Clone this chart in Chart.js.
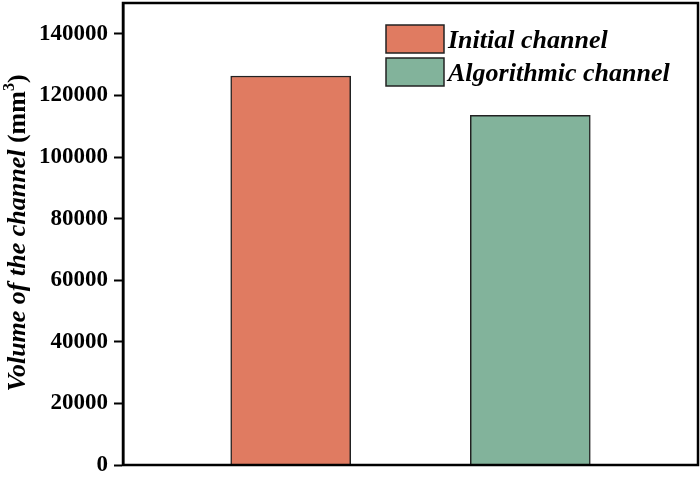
<!DOCTYPE html>
<html>
<head>
<meta charset="utf-8">
<script src="https://cdn.jsdelivr.net/npm/chart.js@4/dist/chart.umd.min.js"></script>
<style>
  html, body { margin: 0; padding: 0; background: #ffffff; }
  #wrap { width: 700px; height: 478px; }
</style>
</head>
<body>
<div id="wrap"><canvas id="volume-chart"></canvas></div>
<script>
// Chart data
const categories = ['Initial channel', 'Algorithmic channel'];
const volumes = [126300, 113500];
const yTicks = [0, 20000, 40000, 60000, 80000, 100000, 120000, 140000];

// Bar colours
const barColors = ['#e07b61', '#82b39b'];
const FONT = '"Liberation Serif", "Times New Roman", serif';

// Frame round the plot area
const framePlugin = {
  id: 'frame',
  afterDatasetsDraw: (chart) => {
    const { ctx, chartArea: a } = chart;
    ctx.save();
    ctx.strokeStyle = '#000000';
    ctx.lineWidth = 2.5;
    ctx.strokeRect(a.left, a.top, a.right - a.left, a.bottom - a.top);
    ctx.restore();
  },
};

// Legend drawn inside the plot, top right
const legendPlugin = {
  id: 'insideLegend',
  afterDraw: (chart) => {
    const { ctx } = chart;
    ctx.save();
    chart.data.datasets.forEach((ds, i) => {
      const x = 386;
      const y = 25 + i * 33;
      ctx.fillStyle = ds.backgroundColor;
      ctx.fillRect(x, y, 58, 28);
      ctx.strokeStyle = '#222222';
      ctx.lineWidth = 1.5;
      ctx.strokeRect(x, y, 58, 28);
      ctx.fillStyle = '#000000';
      ctx.font = `italic bold 26px ${FONT}`;
      ctx.textBaseline = 'alphabetic';
      ctx.fillText(ds.label, x + 62, y + 23);
    });
    ctx.restore();
  },
};

// Y axis title with mixed italic / upright parts
const yTitlePlugin = {
  id: 'yTitle',
  afterDraw: (chart) => {
    const { ctx } = chart;
    const parts = [
      { text: 'Volume of the channel ', font: `italic bold 26px ${FONT}`, dy: 0 },
      { text: '(mm', font: `bold 26px ${FONT}`, dy: 0 },
      { text: '3', font: `bold 16px ${FONT}`, dy: -11 },
      { text: ')', font: `bold 26px ${FONT}`, dy: 0 },
    ];
    ctx.save();
    let total = 0;
    parts.forEach((p) => {
      ctx.font = p.font;
      p.w = ctx.measureText(p.text).width;
      total += p.w;
    });
    ctx.translate(25, 233);
    ctx.rotate(-Math.PI / 2);
    ctx.fillStyle = '#000000';
    ctx.textBaseline = 'alphabetic';
    let cx = -total / 2;
    parts.forEach((p) => {
      ctx.font = p.font;
      ctx.fillText(p.text, cx, p.dy);
      cx += p.w;
    });
    ctx.restore();
  },
};

const datasets = categories.map((name, i) => ({
  label: name,
  data: [{ x: i + 1, y: volumes[i] }],
  backgroundColor: barColors[i],
  borderColor: '#222222',
  borderWidth: 1.5,
  barThickness: 120,
}));

new Chart(document.getElementById('volume-chart'), {
  type: 'bar',
  data: { datasets },
  options: {
    responsive: true,
    maintainAspectRatio: false,
    animation: false,
    grouped: false,
    layout: { padding: { left: 0, top: 3, right: 2, bottom: 13 } },
    plugins: {
      legend: { display: false },
      tooltip: { enabled: false },
    },
    scales: {
      x: {
        type: 'linear',
        display: false,
        offset: false,
        min: 0.3,
        max: 2.7,
      },
      y: {
        min: 0,
        max: 150000,
        afterBuildTicks: (scale) => {
          scale.ticks = yTicks.map((v) => ({ value: v }));
        },
        afterFit: (scale) => {
          scale.width = 123;
          scale.paddingTop = 0;
          scale.paddingBottom = 0;
        },
        border: { display: true, color: '#000000', width: 2.5 },
        grid: {
          drawOnChartArea: false,
          drawTicks: true,
          tickLength: 9,
          tickColor: '#000000',
          tickWidth: 2,
        },
        ticks: {
          color: '#000000',
          padding: 6,
          font: { family: FONT, weight: 'bold', size: 23 },
          callback: (value) => String(value),
        },
      },
    },
  },
  plugins: [framePlugin, legendPlugin, yTitlePlugin],
});
</script>
</body>
</html>
